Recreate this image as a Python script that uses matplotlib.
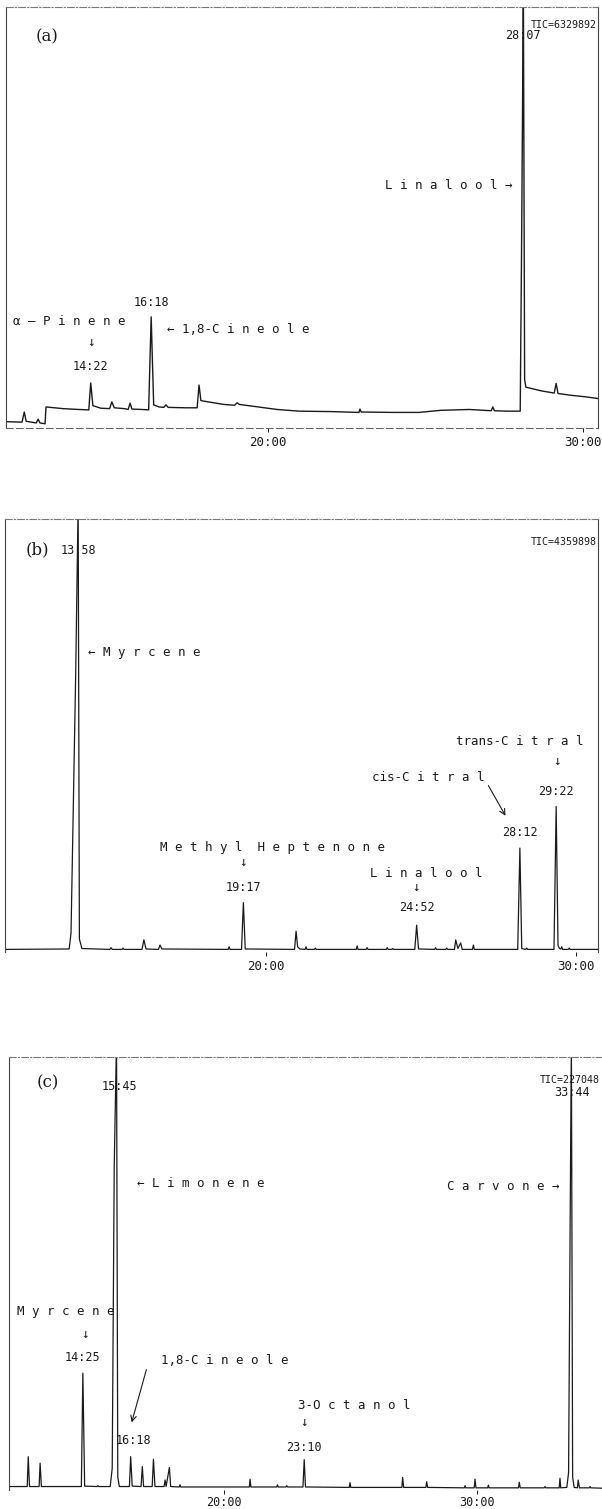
import matplotlib
matplotlib.use('Agg')
import matplotlib.pyplot as plt
import numpy as np

# --------------------------------
# 1. Data (time in min, signal in % of full scale)
# --------------------------------
a_time = [11.69, 12.20, 12.27, 12.33, 12.65, 12.71, 12.77, 12.93, 12.96, 13.50, 14.00,
          14.32, 14.38, 14.45, 14.70, 14.98, 15.05, 15.13, 15.45, 15.57, 15.63, 15.69,
          16.00, 16.22, 16.30, 16.38, 16.55, 16.70, 16.77, 16.84, 17.40, 17.76, 17.82,
          17.88, 18.20, 18.60, 18.95, 19.03, 19.10, 19.60, 20.30, 21.00, 22.00, 22.90,
          22.93, 22.97, 24.00, 24.80, 25.50, 26.40, 27.10, 27.15, 27.20, 27.60, 28.02,
          28.06, 28.12, 28.16, 28.20, 28.70, 29.10, 29.16, 29.22, 29.60, 30.10, 30.49]
a_signal = [1.5, 1.4, 3.8, 1.6, 1.2, 2.1, 1.2, 1.0, 5.0, 4.6, 4.4,
            4.3, 10.7, 5.3, 4.7, 4.6, 6.2, 4.8, 4.6, 4.4, 5.9, 4.5,
            4.4, 4.3, 26.4, 5.5, 5.0, 4.9, 5.5, 4.9, 4.8, 4.8, 10.2,
            6.5, 6.1, 5.6, 5.4, 6.0, 5.6, 5.1, 4.4, 4.0, 3.9, 3.7,
            4.5, 3.8, 3.7, 3.7, 4.2, 4.4, 4.1, 5.0, 4.1, 4.0, 4.0,
            40.0, 104.0, 11.5, 9.7, 8.8, 8.3, 10.6, 8.2, 7.8, 7.4, 7.0]

b_time = [11.59, 13.66, 13.72, 13.87, 13.95, 13.99, 14.07, 14.97, 15.01, 15.05,
          15.37, 15.40, 15.43, 16.01, 16.07, 16.14, 16.54, 16.59, 16.65, 18.79,
          18.82, 18.85, 19.22, 19.28, 19.34, 20.93, 20.98, 21.03, 21.10, 21.27,
          21.30, 21.33, 21.57, 21.60, 21.63, 22.92, 22.95, 22.98, 23.24, 23.27,
          23.30, 23.89, 23.92, 23.95, 24.07, 24.10, 24.13, 24.81, 24.87, 24.93,
          25.45, 25.48, 25.51, 25.81, 25.84, 25.87, 26.09, 26.13, 26.20, 26.29,
          26.34, 26.67, 26.70, 26.73, 28.13, 28.20, 28.26, 28.39, 28.42, 28.45,
          29.30, 29.37, 29.43, 29.48, 29.52, 29.55, 29.58, 29.76, 29.79, 29.82, 30.72]
b_signal = [0.6, 0.7, 4.4, 64.0, 104.0, 3.0, 0.8, 0.6, 1.0, 0.6,
            0.6, 0.9, 0.6, 0.6, 2.8, 0.7, 0.6, 1.6, 0.7, 0.6,
            1.2, 0.6, 0.6, 11.4, 0.7, 0.6, 4.8, 1.2, 0.7, 0.6,
            1.2, 0.6, 0.6, 0.9, 0.6, 0.6, 1.4, 0.6, 0.6, 1.0,
            0.6, 0.6, 1.0, 0.6, 0.6, 0.8, 0.6, 0.6, 6.2, 0.7,
            0.6, 1.0, 0.6, 0.6, 0.9, 0.6, 0.6, 2.8, 0.8, 2.1,
            0.6, 0.6, 1.6, 0.6, 0.6, 24.0, 0.8, 0.6, 0.9, 0.6,
            0.6, 33.6, 1.5, 0.8, 0.7, 1.2, 0.6, 0.6, 0.9, 0.6, 0.6]

c_time = [11.50, 12.22, 12.26, 12.31, 12.69, 12.73, 12.78, 14.36, 14.42, 14.49,
          14.98, 15.01, 15.04, 15.50, 15.58, 15.66, 15.75, 15.80, 15.86, 16.26,
          16.31, 16.37, 16.72, 16.77, 16.82, 17.16, 17.21, 17.27, 17.63, 17.67,
          17.71, 17.84, 17.89, 18.23, 18.26, 18.29, 21.00, 21.03, 21.06, 22.08,
          22.11, 22.14, 22.45, 22.48, 22.51, 23.12, 23.17, 23.22, 24.95, 24.98,
          25.01, 27.03, 27.06, 27.10, 27.98, 28.01, 28.05, 29.50, 29.53, 29.56,
          29.89, 29.92, 29.96, 30.42, 30.45, 30.48, 31.64, 31.67, 31.71, 32.66,
          32.69, 32.72, 33.25, 33.28, 33.31, 33.55, 33.62, 33.68, 33.73, 33.78,
          33.84, 33.97, 34.00, 34.05, 34.44, 34.47, 34.50, 35.02]
c_signal = [0.8, 0.8, 7.7, 0.8, 0.8, 6.2, 0.8, 0.8, 27.0, 0.9,
            0.8, 1.0, 0.8, 0.8, 5.0, 75.0, 104.0, 3.0, 0.8, 0.8,
            7.7, 0.9, 0.8, 5.4, 0.8, 0.8, 7.1, 0.8, 0.8, 2.3,
            0.8, 5.2, 0.8, 0.7, 1.2, 0.7, 0.7, 2.5, 0.7, 0.7,
            1.2, 0.7, 0.7, 1.0, 0.7, 0.7, 7.0, 0.7, 0.6, 1.7,
            0.6, 0.6, 2.9, 0.6, 0.6, 1.9, 0.6, 0.5, 1.0, 0.5,
            0.5, 2.5, 0.5, 0.5, 1.1, 0.5, 0.5, 1.8, 0.5, 0.5,
            0.8, 0.5, 0.5, 2.7, 0.5, 0.6, 4.0, 60.0, 104.0, 3.0,
            0.6, 0.5, 2.3, 0.5, 0.5, 0.8, 0.5, 0.4]

tick_times = [20, 30]
tick_labels = ['20:00', '30:00']

# --------------------------------
# 2. Layout helpers
# --------------------------------
W, H = 602, 1509
MONO = 'DejaVu Sans Mono'
INK = '#1a1a1a'

fig = plt.figure(figsize=(W / 100, H / 100), dpi=100)


def make_axes(x0, y0, x1, y1, xlim, bottom_dashed=True, right=True, pad=3, size=9):
    ax = fig.add_axes([x0 / W, 1 - y1 / H, (x1 - x0) / W, (y1 - y0) / H])
    ax.set_xlim(*xlim)
    ax.set_ylim(0, 100)
    ax.set_yticks([])
    ax.set_xticks(tick_times)
    ax.set_xticklabels(tick_labels, family=MONO, fontsize=size)
    ax.tick_params(axis='x', direction='out', length=3, width=0.7, pad=pad, colors=INK)
    for s in ax.spines.values():
        s.set_color('#444444')
        s.set_linewidth(0.8)
    ax.spines['top'].set_linestyle((0, (6, 2, 1, 2)))
    ax.spines['top'].set_color('#777777')
    if bottom_dashed:
        ax.spines['bottom'].set_linestyle((0, (6, 3)))
        ax.spines['bottom'].set_color('#666666')
    else:
        ax.spines['bottom'].set_visible(False)
    ax.spines['right'].set_visible(right)
    return ax


def label(ax, t, y, s, ha='center', size=9):
    ax.text(t, y, s, ha=ha, va='center', family=MONO, fontsize=size, color=INK)


# --------------------------------
# 3. Panel (a)
# --------------------------------
ax_a = make_axes(6, 7, 598, 428, (11.69, 30.49))
ax_a.plot(a_time, a_signal, color=INK, lw=1.0)
ax_a.text(12.99, 92.9, '(a)', ha='center', va='center', family='DejaVu Serif', fontsize=12, color=INK)
label(ax_a, 28.36, 95.7, 'TIC=6329892', ha='left', size=7.2)
label(ax_a, 28.12, 93.3, '28:07', size=8.5)
label(ax_a, 27.76, 57.7, 'L i n a l o o l →', ha='right')
label(ax_a, 16.30, 29.9, '16:18', size=8.5)
label(ax_a, 11.92, 25.4, 'α – P i n e n e', ha='left')
label(ax_a, 16.80, 23.5, '← 1,8-C i n e o l e', ha='left')
label(ax_a, 14.40, 20.4, '↓')
label(ax_a, 14.38, 14.5, '14:22', size=8.5)

# --------------------------------
# 4. Panel (b)
# --------------------------------
ax_b = make_axes(5, 519, 598, 952, (11.59, 30.72), bottom_dashed=False)
ax_b.plot(b_time, b_signal, color=INK, lw=0.9)
ax_b.text(12.65, 92.8, '(b)', ha='center', va='center', family='DejaVu Serif', fontsize=12, color=INK)
label(ax_b, 13.97, 92.8, '13:58', size=8.5)
label(ax_b, 28.55, 94.7, 'TIC=4359898', ha='left', size=7.2)
label(ax_b, 14.27, 69.1, '← M y r c e n e', ha='left')
label(ax_b, 26.14, 48.5, 'trans-C i t r a l', ha='left')
label(ax_b, 29.40, 43.9, '↓')
label(ax_b, 29.37, 37.0, '29:22', size=8.5)
label(ax_b, 23.43, 40.2, 'cis-C i t r a l', ha='left')
ax_b.annotate('', xy=(27.78, 30.9), xytext=(27.14, 39.0),
              arrowprops=dict(arrowstyle='->', color=INK, lw=0.8))
label(ax_b, 28.20, 27.5, '28:12', size=8.5)
label(ax_b, 16.59, 24.2, 'M e t h y l  H e p t e n o n e', ha='left')
label(ax_b, 19.27, 20.6, '↓')
label(ax_b, 19.28, 15.0, '19:17', size=8.5)
label(ax_b, 23.36, 18.2, 'L i n a l o o l', ha='left')
label(ax_b, 24.85, 14.8, '↓')
label(ax_b, 24.87, 10.2, '24:52', size=8.5)

# --------------------------------
# 5. Panel (c)
# --------------------------------
ax_c = make_axes(9, 1057, 604, 1490, (11.50, 35.02), bottom_dashed=False, right=False,
                 pad=1, size=8.5)
ax_c.plot(c_time, c_signal, color=INK, lw=0.9)
ax_c.text(13.04, 94.0, '(c)', ha='center', va='center', family='DejaVu Serif', fontsize=12, color=INK)
label(ax_c, 15.85, 93.1, '15:45', size=8.5)
label(ax_c, 32.50, 94.7, 'TIC=227048', ha='left', size=7.2)
label(ax_c, 33.75, 91.9, '33:44', size=8.5)
label(ax_c, 16.56, 70.9, '← L i m o n e n e', ha='left')
label(ax_c, 33.28, 70.0, 'C a r v o n e →', ha='right')
label(ax_c, 11.82, 41.3, 'M y r c e n e', ha='left')
label(ax_c, 14.51, 35.8, '↓')
label(ax_c, 14.42, 30.7, '14:25', size=8.5)
label(ax_c, 17.51, 29.8, '1,8-C i n e o l e', ha='left')
ax_c.annotate('', xy=(16.32, 15.0), xytext=(16.96, 28.4),
              arrowprops=dict(arrowstyle='->', color=INK, lw=0.8))
label(ax_c, 16.40, 11.5, '16:18', size=8.5)
label(ax_c, 22.92, 19.4, '3-O c t a n o l', ha='left')
label(ax_c, 23.16, 15.5, '↓')
label(ax_c, 23.17, 9.9, '23:10', size=8.5)

fig.savefig('out.png', dpi=100, facecolor='white')
